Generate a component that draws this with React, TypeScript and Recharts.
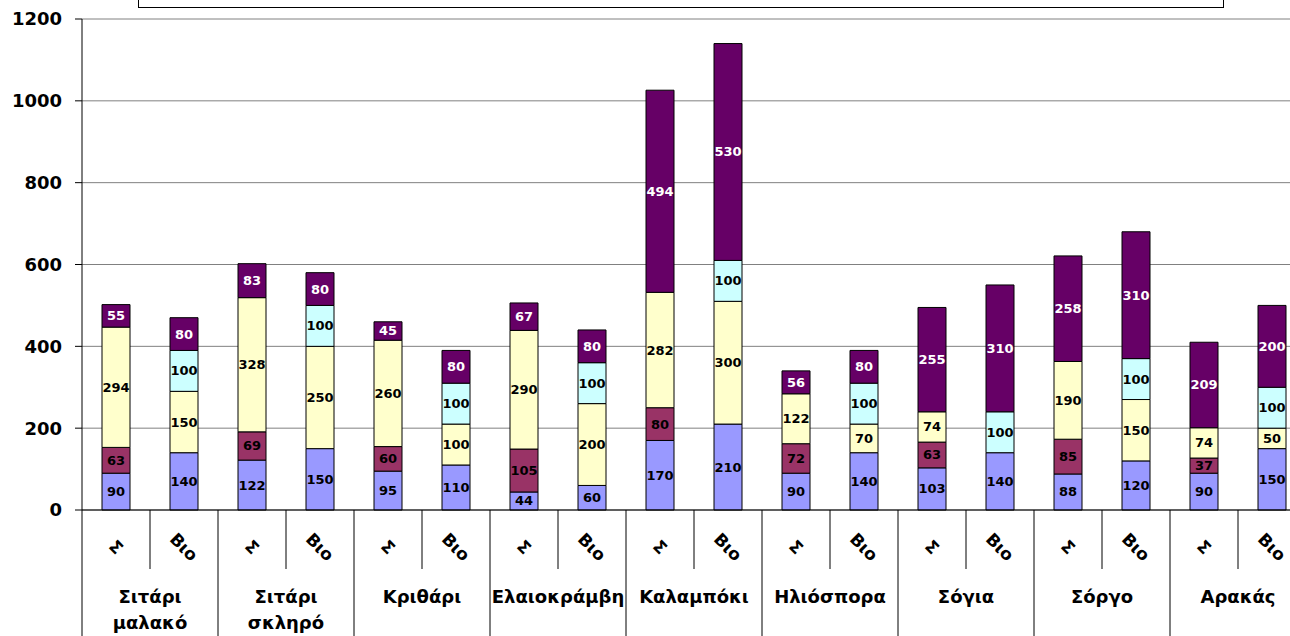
import React from "react";
import {
  BarChart,
  Bar,
  XAxis,
  YAxis,
  CartesianGrid,
  LabelList,
} from "recharts";

const groups = [
  "Σιτάρι μαλακό",
  "Σιτάρι σκληρό",
  "Κριθάρι",
  "Ελαιοκράμβη",
  "Καλαμπόκι",
  "Ηλιόσπορα",
  "Σόγια",
  "Σόργο",
  "Αρακάς",
];
const types = ["Σ", "Βιο"];

const s1 = [90, 140, 122, 150, 95, 110, 44, 60, 170, 210, 90, 140, 103, 140, 88, 120, 90, 150];
const s2 = [63, 0, 69, 0, 60, 0, 105, 0, 80, 0, 72, 0, 63, 0, 85, 0, 37, 0];
const s3 = [294, 150, 328, 250, 260, 100, 290, 200, 282, 300, 122, 70, 74, 0, 190, 150, 74, 50];
const s4 = [0, 100, 0, 100, 0, 100, 0, 100, 0, 100, 0, 100, 0, 100, 0, 100, 0, 100];
const s5 = [55, 80, 83, 80, 45, 80, 67, 80, 494, 530, 56, 80, 255, 310, 258, 310, 209, 200];

const yTicks = [0, 200, 400, 600, 800, 1000, 1200];

const data = s1.map((_, i) => ({
  key: i,
  type: types[i % 2],
  group: groups[Math.floor(i / 2)],
  s1: s1[i],
  s2: s2[i],
  s3: s3[i],
  s4: s4[i],
  s5: s5[i],
}));

const FONT = "'DejaVu Sans', Verdana, sans-serif";
const CHART_W = 1320;
const CHART_H = 636;
const LEFT = 82;
const RIGHT = 14;
const PLOT_W = CHART_W - LEFT - RIGHT;
const BAND = PLOT_W / data.length;

const series = [
  { key: "s1", fill: "#9999FF", text: "#000" },
  { key: "s2", fill: "#993366", text: "#000" },
  { key: "s3", fill: "#FFFFCC", text: "#000" },
  { key: "s4", fill: "#CCFFFF", text: "#000" },
  { key: "s5", fill: "#660066", text: "#fff" },
];

function XTick(props: any) {
  const { x, y, payload, index } = props;
  const item = data[index];
  const half = BAND / 2;
  const isSecond = index % 2 === 1;
  const words = item.group.split(" ");
  const gx = x - half;
  return (
    <g>
      {index === 0 && (
        <line x1={x - half} y1={y} x2={x - half} y2={CHART_H} stroke="#000" />
      )}
      <line
        x1={x + half}
        y1={y}
        x2={x + half}
        y2={isSecond ? CHART_H : y + 59}
        stroke="#000"
      />
      <text
        x={x}
        y={y + 37}
        transform={`rotate(45 ${x} ${y + 37})`}
        textAnchor="middle"
        dominantBaseline="central"
        fontFamily={FONT}
        fontWeight="bold"
        fontSize={17}
        fill="#000"
      >
        {payload.value}
      </text>
      {isSecond &&
        words.map((w: string, k: number) => (
          <text
            key={k}
            x={gx}
            y={y + 86 + k * 26}
            textAnchor="middle"
            dominantBaseline="central"
            fontFamily={FONT}
            fontWeight="bold"
            fontSize={18}
            fill="#000"
          >
            {w}
          </text>
        ))}
    </g>
  );
}

function makeLabel(color: string) {
  return (props: any) => {
    const { x, y, width, height, value } = props;
    if (!value) return null;
    return (
      <text
        x={x + width / 2}
        y={y + height / 2}
        textAnchor="middle"
        dominantBaseline="central"
        fontFamily={FONT}
        fontWeight="bold"
        fontSize={13}
        fill={color}
      >
        {value}
      </text>
    );
  };
}

export default function App() {
  return (
    <div
      style={{
        position: "absolute",
        left: 0,
        top: 0,
        width: 1290,
        height: 636,
        overflow: "hidden",
        background: "#fff",
      }}
    >
      <div
        style={{
          position: "absolute",
          left: 138,
          top: -10,
          width: 1084,
          height: 16,
          border: "1px solid #000",
          background: "#fff",
          zIndex: 2,
        }}
      />
      <BarChart
        width={CHART_W}
        height={CHART_H}
        data={data}
        margin={{ top: 19, right: RIGHT, bottom: 0, left: 0 }}
        barSize={28}
      >
        <CartesianGrid vertical={false} stroke="#808080" />
        <XAxis
          dataKey="type"
          height={126}
          axisLine={{ stroke: "#000" }}
          tickLine={false}
          tickSize={0}
          tickMargin={0}
          interval={0}
          tick={<XTick />}
        />
        <YAxis
          width={LEFT}
          domain={[0, 1200]}
          ticks={yTicks}
          interval={0}
          axisLine={{ stroke: "#000" }}
          tickLine={{ stroke: "#000" }}
          tickSize={7}
          tickMargin={13}
          tick={{
            fontFamily: FONT,
            fontWeight: "bold",
            fontSize: 18,
            fill: "#000",
          }}
        />
        {series.map((s) => (
          <Bar
            key={s.key}
            dataKey={s.key}
            stackId="a"
            fill={s.fill}
            stroke="#000"
            strokeWidth={1}
            isAnimationActive={false}
          >
            <LabelList dataKey={s.key} content={makeLabel(s.text)} />
          </Bar>
        ))}
      </BarChart>
    </div>
  );
}
